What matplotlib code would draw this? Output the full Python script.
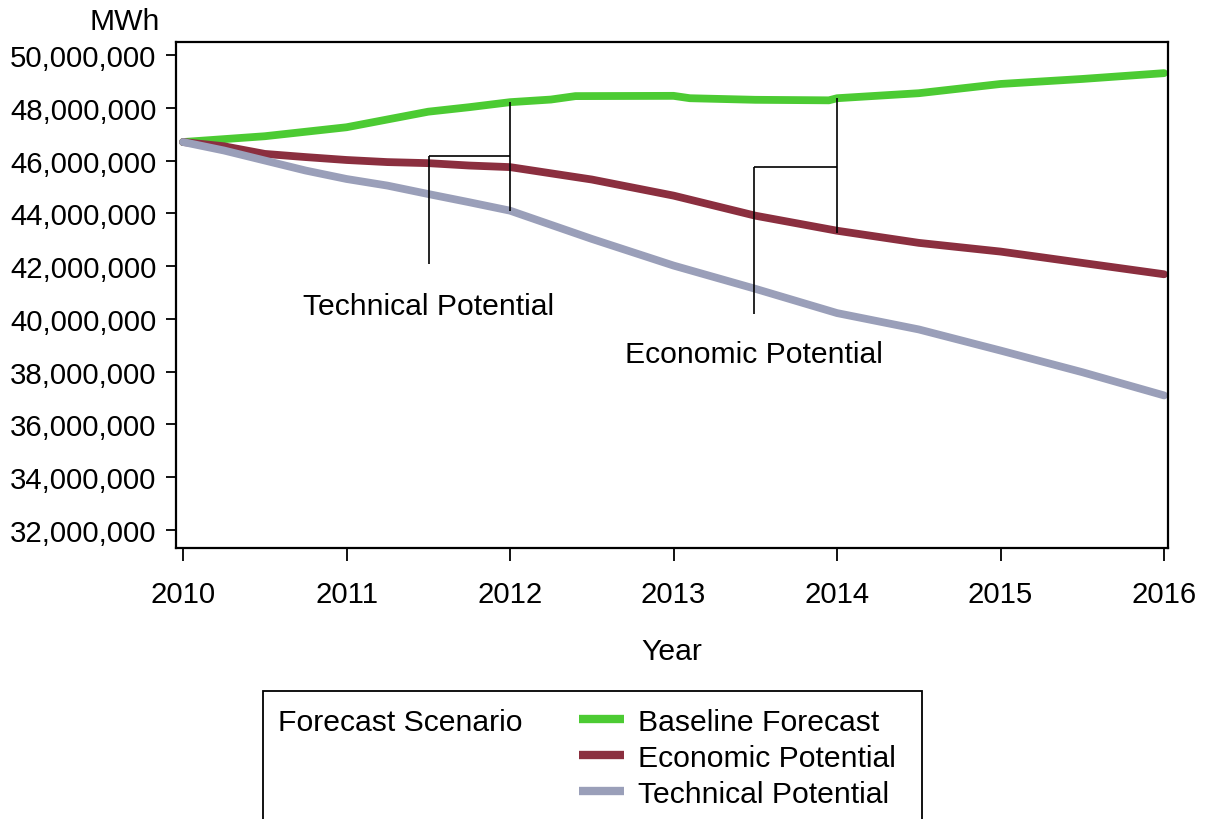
import matplotlib
matplotlib.use("Agg")
import matplotlib.pyplot as plt
from matplotlib.lines import Line2D
from matplotlib.patches import Rectangle
from matplotlib.ticker import FuncFormatter

plt.rcParams['font.family'] = ['Liberation Sans', 'DejaVu Sans']

# ---- data (values in million MWh) ----
base_years = [2010, 2010.5, 2011, 2011.5, 2011.75, 2012, 2012.25, 2012.4, 2013, 2013.1,
              2013.5, 2013.95, 2014, 2014.5, 2015, 2015.5, 2016]
base_vals = [46.70, 46.92, 47.26, 47.85, 48.02, 48.21, 48.31, 48.44, 48.45, 48.36,
             48.30, 48.28, 48.36, 48.55, 48.90, 49.09, 49.31]

econ_years = [2010, 2010.25, 2010.5, 2010.75, 2011, 2011.25, 2011.5, 2011.75, 2012,
              2012.5, 2013, 2013.5, 2014, 2014.5, 2015, 2015.5, 2016]
econ_vals = [46.70, 46.54, 46.25, 46.13, 46.02, 45.94, 45.90, 45.81, 45.75,
             45.28, 44.67, 43.91, 43.34, 42.88, 42.55, 42.12, 41.69]

tech_years = [2010, 2010.25, 2010.5, 2010.75, 2011, 2011.25, 2011.5, 2011.75, 2012,
              2012.5, 2013, 2013.5, 2014, 2014.5, 2015, 2015.5, 2016]
tech_vals = [46.70, 46.38, 46.00, 45.62, 45.30, 45.05, 44.73, 44.42, 44.10,
             43.03, 42.02, 41.14, 40.22, 39.60, 38.80, 37.98, 37.10]

series_names = ["Baseline Forecast", "Economic Potential", "Technical Potential"]
series_colors = ["#4ccb33", "#8b2f3f", "#9a9fb9"]

x_ticks = [2010, 2011, 2012, 2013, 2014, 2015, 2016]
y_ticks = [32, 34, 36, 38, 40, 42, 44, 46, 48, 50]

# ---- figure ----
W, H = 1206, 820
FS = 21.7
fig = plt.figure(figsize=(W / 100, H / 100), dpi=100)
ax = fig.add_axes([176 / W, 1 - 549 / H, (1168 - 176) / W, (549 - 43) / H])

data = [(base_years, base_vals), (econ_years, econ_vals), (tech_years, tech_vals)]
for (xs, ys), name, col in zip(data, series_names, series_colors):
    ax.plot(xs, [v * 1e6 for v in ys], color=col, lw=5.6,
            solid_capstyle='round', solid_joinstyle='round', label=name)

ax.set_xlim(2009.957, 2016.024)
ax.set_ylim(31.32e6, 50.49e6)
ax.set_xticks(x_ticks)
ax.set_yticks([v * 1e6 for v in y_ticks])
ax.yaxis.set_major_formatter(FuncFormatter(lambda v, p: f"{int(round(v)):,}"))
ax.tick_params(axis='y', direction='out', length=7, width=1.3, pad=7, labelsize=21.2)
ax.tick_params(axis='x', direction='out', length=9, width=1.3, pad=14, labelsize=21.2)
for s in ax.spines.values():
    s.set_linewidth(1.6)

ax.set_xlabel("Year", fontsize=FS, labelpad=21)
fig.text(160 / W, 1 - 22 / H, "MWh", fontsize=FS, ha='right', va='center')

# ---- bracket annotations ----
kw = dict(color='black', lw=1.2, solid_capstyle='butt')
# Technical Potential
ax.plot([2012, 2012], [48.23e6, 44.09e6], **kw)
ax.plot([2011.505, 2012], [46.19e6, 46.19e6], **kw)
ax.plot([2011.505, 2011.505], [46.19e6, 42.08e6], **kw)
ax.text(2011.5, 40.49e6, "Technical Potential", fontsize=FS, ha='center', va='center')
# Economic Potential
ax.plot([2014, 2014], [48.37e6, 43.26e6], **kw)
ax.plot([2013.49, 2014], [45.77e6, 45.77e6], **kw)
ax.plot([2013.49, 2013.49], [45.77e6, 40.19e6], **kw)
ax.text(2013.49, 38.67e6, "Economic Potential", fontsize=FS, ha='center', va='center')

# ---- legend box ----
box = Rectangle((263 / W, -0.05), (922 - 263) / W, (1 - 692 / H) + 0.05,
                transform=fig.transFigure, fill=False, edgecolor='black', lw=1.3,
                clip_on=False)
fig.add_artist(box)
fig.text(278 / W, 1 - 723 / H, "Forecast Scenario", fontsize=FS, ha='left', va='center')
leg_handles = [Line2D([0], [0], color=c, lw=6, solid_capstyle='butt') for c in series_colors]
fig.legend(leg_handles, series_names, loc='upper left',
           bbox_to_anchor=(579 / W, 1 - 709 / H), frameon=False, fontsize=FS,
           handlelength=1.5, handletextpad=0.47, labelspacing=0.26, borderpad=0,
           borderaxespad=0)

fig.savefig("out.png", dpi=100)
